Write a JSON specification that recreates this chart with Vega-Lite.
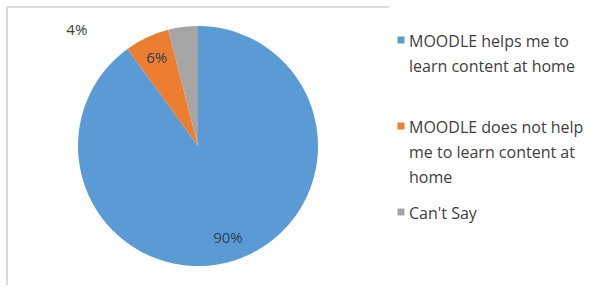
{
  "$schema": "https://vega.github.io/schema/vega-lite/v6.json",
  "width": 382,
  "height": 278,
  "padding": {"left": 7, "top": 7, "right": 0, "bottom": 0},
  "autosize": {"type": "pad"},
  "background": "white",
  "view": {"stroke": "#d0d0d0", "strokeWidth": 1.5, "strokeDash": [382, 660, 278, 0]},
  "config": {
    "font": "Open Sans",
    "style": {"guide-label": {"lineHeight": 25, "dy": -6}}
  },
  "data": {
    "values": [
      {"k": 1, "category": "MOODLE helps me to learn content at home", "share": 0.90},
      {"k": 2, "category": "MOODLE does not help me to learn content at home", "share": 0.06},
      {"k": 3, "category": "Can't Say", "share": 0.04}
    ]
  },
  "encoding": {
    "theta": {"field": "share", "type": "quantitative", "stack": true},
    "order": {"field": "k", "type": "ordinal"}
  },
  "layer": [
    {
      "mark": {"type": "arc", "radius": 120},
      "encoding": {
        "color": {
          "field": "category",
          "type": "nominal",
          "scale": {
            "domain": ["MOODLE helps me to learn content at home", "MOODLE does not help me to learn content at home", "Can't Say"],
            "range": ["#5B9BD5", "#ED7D31", "#A5A5A5"]
          },
          "legend": {
            "orient": "none",
            "legendX": 386,
            "legendY": 25,
            "title": null,
            "symbolType": "square",
            "symbolSize": 49,
            "symbolStrokeWidth": 0,
            "labelFont": "Open Sans",
            "labelFontSize": 16,
            "labelColor": "#404040",
            "labelLimit": 300,
            "labelOffset": 0,
            "rowPadding": 18,
            "labelBaseline": "top",
            "labelExpr": "datum.label == 'MOODLE helps me to learn content at home' ? ['MOODLE helps me to', 'learn content at home', '\u00a0'] : datum.label == 'MOODLE does not help me to learn content at home' ? ['MOODLE does not help', 'me to learn content at', 'home'] : datum.label"
          }
        }
      }
    },
    {
      "mark": {"type": "text", "radius": 97, "fontSize": 15, "color": "#2b3f55", "font": "Open Sans"},
      "encoding": {
        "text": {"condition": {"test": "datum.k < 3", "field": "share", "format": ".0%"}, "value": ""}
      }
    },
    {
      "mark": {"type": "text", "radius": 168, "thetaOffset": -0.68, "fontSize": 15, "color": "#404040", "font": "Open Sans"},
      "encoding": {
        "text": {"condition": {"test": "datum.k == 3", "field": "share", "format": ".0%"}, "value": ""}
      }
    }
  ]
}
